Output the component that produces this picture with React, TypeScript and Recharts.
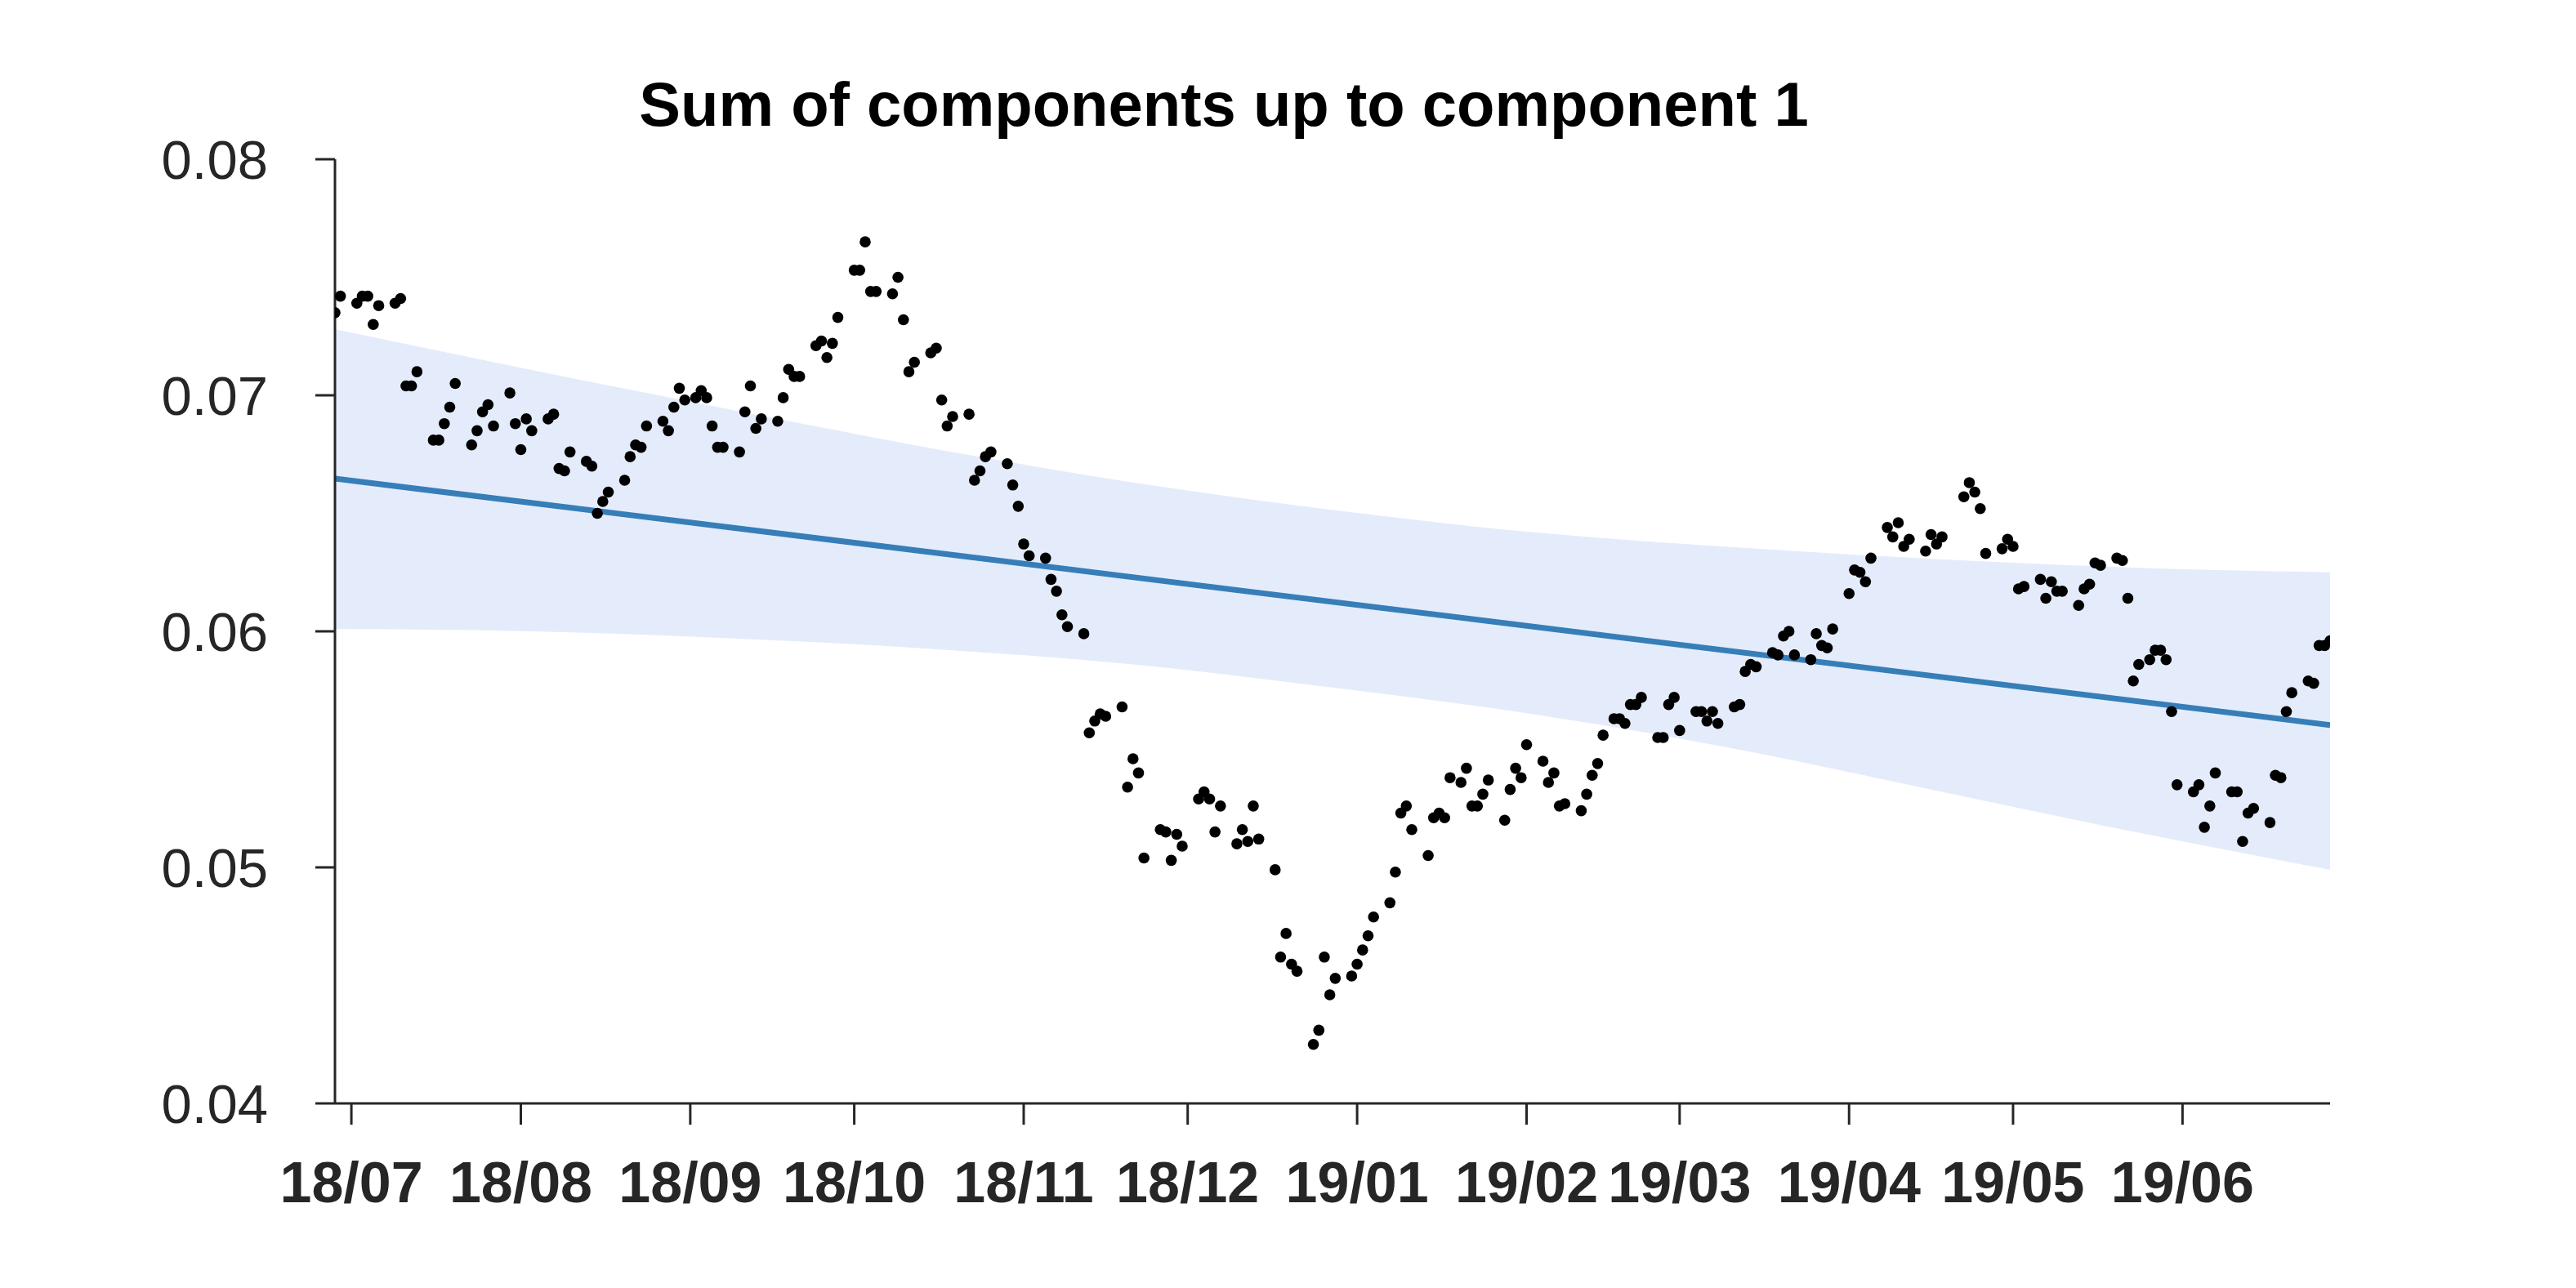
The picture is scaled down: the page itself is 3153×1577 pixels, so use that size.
import React from 'react';
import { ComposedChart, Area, Line, Scatter, XAxis, YAxis } from 'recharts';

// days are counted from 2018-07-01
const ORIGIN = Date.UTC(2018, 6, 1);
const DAY_MS = 86400000;

const monthLabels = ['18/07', '18/08', '18/09', '18/10', '18/11', '18/12', '19/01', '19/02', '19/03', '19/04', '19/05', '19/06'];
const yTicks = [0.04, 0.05, 0.06, 0.07, 0.08];

const pointDays = [
  -3, -2,
  1, 2, 3, 4, 5,
  8, 9, 10, 11, 12,
  15, 16, 17, 18, 19,
  22, 23, 24, 25, 26,
  29, 30, 31, 32, 33,
  36, 37, 38, 39, 40,
  43, 44, 45, 46, 47,
  50, 51, 52, 53, 54,
  57, 58, 59, 60, 61,
  63, 64, 65, 66, 67, 68,
  71, 72, 73, 74, 75,
  78, 79, 80, 81, 82,
  85, 86, 87, 88, 89,
  92, 93, 94, 95, 96,
  99, 100, 101, 102, 103,
  106, 107, 108, 109, 110,
  113, 114, 115, 116, 117,
  120, 121, 122, 123, 124,
  127, 128, 129, 130, 131,
  134, 135, 136, 137, 138,
  141, 142, 143, 144, 145,
  148, 149, 150, 151, 152,
  155, 156, 157, 158, 159,
  162, 163, 164, 165, 166,
  169, 170, 171, 172, 173,
  176, 177, 178, 179, 180,
  183, 184, 185, 186, 187,
  190, 191, 192, 193, 194,
  197, 198, 199, 200, 201,
  203, 204, 205, 206, 207, 208,
  211, 212, 213, 214, 215,
  218, 219, 220, 221, 222,
  225, 226, 227, 228, 229,
  231, 232, 233, 234, 235, 236,
  239, 240, 241, 242, 243,
  246, 247, 248, 249, 250,
  253, 254, 255, 256, 257,
  260, 261, 262, 263, 264,
  267, 268, 269, 270, 271,
  274, 275, 276, 277, 278,
  281, 282, 283, 284, 285,
  288, 289, 290, 291,
  295, 296, 297, 298, 299,
  302, 303, 304, 305, 306,
  309, 310, 311, 312, 313,
  316, 317, 318, 319, 320,
  323, 324, 325, 326, 327,
  329, 330, 331, 332, 333, 334,
  337, 338, 339, 340, 341,
  344, 345, 346, 347, 348,
  351, 352, 353, 354, 355,
  358, 359, 360, 361, 362,
];

const pointValues = [
  0.0735, 0.0742,
  0.0739, 0.0742, 0.0742, 0.0730, 0.0738,
  0.0739, 0.0741, 0.0704, 0.0704, 0.0710,
  0.0681, 0.0681, 0.0688, 0.0695, 0.0705,
  0.0679, 0.0685, 0.0693, 0.0696, 0.0687,
  0.0701, 0.0688, 0.0677, 0.0690, 0.0685,
  0.0690, 0.0692, 0.0669, 0.0668, 0.0676,
  0.0672, 0.0670, 0.0650, 0.0655, 0.0659,
  0.0664, 0.0674, 0.0679, 0.0678, 0.0687,
  0.0689, 0.0685, 0.0695, 0.0703, 0.0698,
  0.0699, 0.0702, 0.0699, 0.0687, 0.0678, 0.0678,
  0.0676, 0.0693, 0.0704, 0.0686, 0.0690,
  0.0689, 0.0699, 0.0711, 0.0708, 0.0708,
  0.0721, 0.0723, 0.0716, 0.0722, 0.0733,
  0.0753, 0.0753, 0.0765, 0.0744, 0.0744,
  0.0743, 0.0750, 0.0732, 0.0710, 0.0714,
  0.0718, 0.0720, 0.0698, 0.0687, 0.0691,
  0.0692, 0.0664, 0.0668, 0.0674, 0.0676,
  0.0671, 0.0662, 0.0653, 0.0637, 0.0632,
  0.0631, 0.0622, 0.0617, 0.0607, 0.0602,
  0.0599, 0.0557, 0.0562, 0.0565, 0.0564,
  0.0568, 0.0534, 0.0546, 0.0540, 0.0504,
  0.0516, 0.0515, 0.0503, 0.0514, 0.0509,
  0.0529, 0.0532, 0.0529, 0.0515, 0.0526,
  0.0510, 0.0516, 0.0511, 0.0526, 0.0512,
  0.0499, 0.0462, 0.0472, 0.0459, 0.0456,
  0.0425, 0.0431, 0.0462, 0.0446, 0.0453,
  0.0454, 0.0459, 0.0465, 0.0471, 0.0479,
  0.0485, 0.0498, 0.0523, 0.0526, 0.0516,
  0.0505, 0.0521, 0.0523, 0.0521, 0.0538,
  0.0536, 0.0542, 0.0526, 0.0526, 0.0531, 0.0537,
  0.0520, 0.0533, 0.0542, 0.0538, 0.0552,
  0.0545, 0.0536, 0.0540, 0.0526, 0.0527,
  0.0524, 0.0531, 0.0539, 0.0544, 0.0556,
  0.0563, 0.0563, 0.0561, 0.0569, 0.0569, 0.0572,
  0.0555, 0.0555, 0.0569, 0.0572, 0.0558,
  0.0566, 0.0566, 0.0562, 0.0566, 0.0561,
  0.0568, 0.0569, 0.0583, 0.0586, 0.0585,
  0.0591, 0.0590, 0.0598, 0.0600, 0.0590,
  0.0588, 0.0599, 0.0594, 0.0593, 0.0601,
  0.0616, 0.0626, 0.0625, 0.0621, 0.0631,
  0.0644, 0.0640, 0.0646, 0.0636, 0.0639,
  0.0634, 0.0641, 0.0637, 0.0640,
  0.0657, 0.0663, 0.0659, 0.0652, 0.0633,
  0.0635, 0.0639, 0.0636, 0.0618, 0.0619,
  0.0622, 0.0614, 0.0621, 0.0617, 0.0617,
  0.0611, 0.0618, 0.0620, 0.0629, 0.0628,
  0.0631, 0.0630, 0.0614, 0.0579, 0.0586,
  0.0588, 0.0592, 0.0592, 0.0588, 0.0566, 0.0535,
  0.0532, 0.0535, 0.0517, 0.0526, 0.0540,
  0.0532, 0.0532, 0.0511, 0.0523, 0.0525,
  0.0519, 0.0539, 0.0538, 0.0566, 0.0574,
  0.0579, 0.0578, 0.0594, 0.0594, 0.0596,
];

// confidence band, read at a few positions along the axis
const bandDays = [-3, 33, 70, 106, 143, 180, 216, 253, 289, 326, 362];
const bandUpper = [0.0728, 0.07107, 0.06937, 0.06776, 0.06631, 0.06513, 0.0642, 0.06356, 0.06307, 0.0627, 0.0625];
const bandLower = [0.0601, 0.0600, 0.0597, 0.05926, 0.0586, 0.0576, 0.0565, 0.05503, 0.0533, 0.05151, 0.0499];

// fitted trend
const trendDays = [-3, 362];
const trendValues = [0.06647, 0.05603];

const FONT = '"Liberation Sans", Arial, Helvetica, sans-serif';
const INK = '#262626';

const monthTicks = monthLabels.map((label) => {
  const [yy, mm] = label.split('/').map(Number);
  return Math.round((Date.UTC(2000 + yy, mm - 1, 1) - ORIGIN) / DAY_MS);
});

const points = pointDays.map((d, i) => ({ d, v: pointValues[i] }));
const band = bandDays.map((d, i) => ({ d, range: [bandLower[i], bandUpper[i]] }));
const trend = trendDays.map((d, i) => ({ d, v: trendValues[i] }));

const Dot = (props: any) => <circle cx={props.cx} cy={props.cy} r={6.8} fill="#000" />;

export default function App() {
  return (
    <div style={{ position: 'absolute', left: 0, top: 0, width: 3153, height: 1577, background: '#fff' }}>
      <div
        style={{
          position: 'absolute',
          left: 0,
          top: 90,
          width: 2996,
          textAlign: 'center',
          fontFamily: FONT,
          fontWeight: 'bold',
          fontSize: 76,
          lineHeight: '76px',
          color: '#000',
        }}
      >
        Sum of components up to component 1
      </div>
      <ComposedChart width={3153} height={1577} margin={{ top: 195, right: 301, bottom: 0, left: 0 }}>
        <XAxis
          dataKey="d"
          type="number"
          domain={[-3, 362]}
          ticks={monthTicks}
          interval={0}
          allowDataOverflow
          tickFormatter={(d: number) => monthLabels[monthTicks.indexOf(d)]}
          height={226}
          tickSize={26}
          tickMargin={45}
          axisLine={{ stroke: INK, strokeWidth: 3 }}
          tickLine={{ stroke: INK, strokeWidth: 3 }}
          tick={{ fill: INK, fontSize: 70, fontWeight: 'bold', fontFamily: FONT }}
        />
        <YAxis
          type="number"
          domain={[0.04, 0.08]}
          ticks={yTicks}
          interval={0}
          allowDataOverflow
          tickFormatter={(v: number) => v.toFixed(2)}
          width={410}
          tickSize={24}
          tickMargin={58}
          axisLine={{ stroke: INK, strokeWidth: 3 }}
          tickLine={{ stroke: INK, strokeWidth: 3 }}
          tick={{ fill: INK, fontSize: 67, fontFamily: FONT }}
        />
        <Area
          data={band}
          dataKey="range"
          type="monotone"
          fill="#e4ecfc"
          fillOpacity={1}
          stroke="none"
          isAnimationActive={false}
        />
        <Line
          data={trend}
          dataKey="v"
          type="linear"
          stroke="#377eb8"
          strokeWidth={7}
          dot={false}
          isAnimationActive={false}
        />
        <Scatter data={points} dataKey="v" shape={Dot} isAnimationActive={false} />
      </ComposedChart>
    </div>
  );
}
